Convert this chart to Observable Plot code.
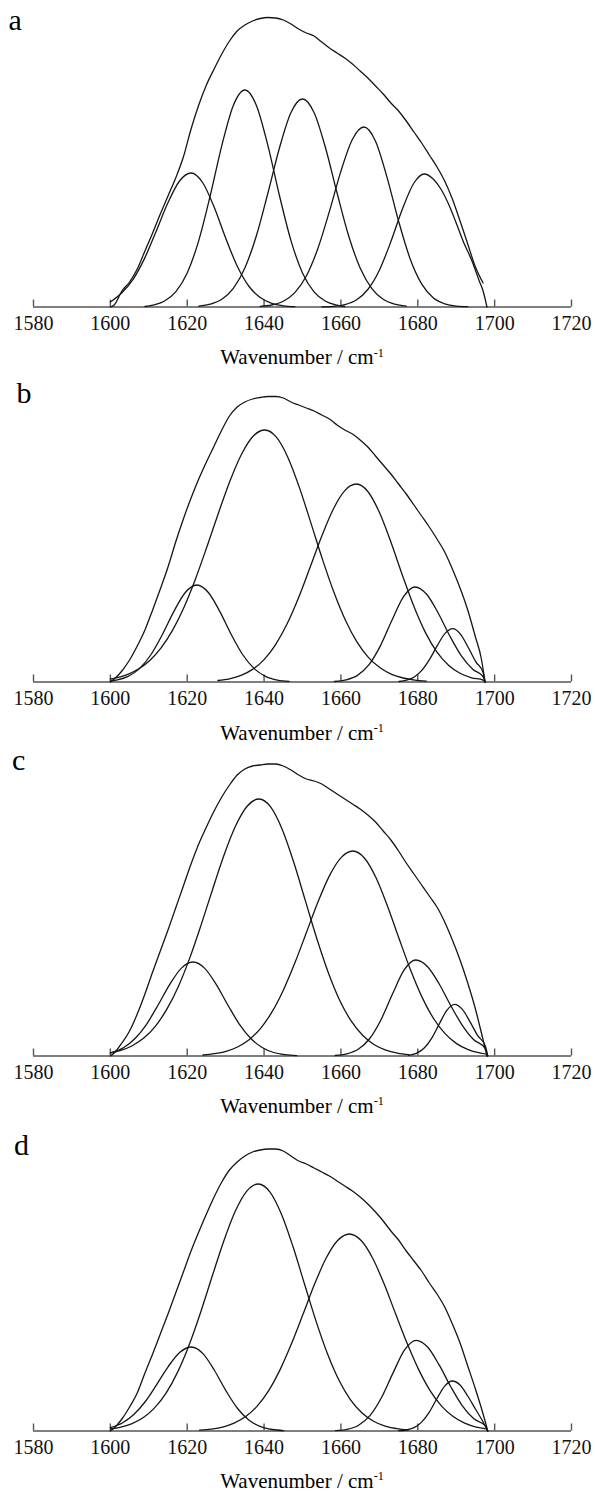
<!DOCTYPE html>
<html>
<head>
<meta charset="utf-8">
<script src="https://cdn.jsdelivr.net/npm/d3@7"></script>
<script src="https://cdn.jsdelivr.net/npm/@observablehq/plot@0.6"></script>
<style>
  html, body { margin: 0; padding: 0; background: #fff; }
  #root { position: relative; width: 595px; height: 1492px; overflow: hidden;
          font-family: "Liberation Serif", "Times New Roman", serif; color: #000; }
  .panel { position: absolute; left: 0; width: 595px; }
  .letter { position: absolute; font-size: 30px; line-height: 1; }
  .xlabel { position: absolute; font-size: 21px; line-height: 1; white-space: nowrap;
            transform: translateX(-50%); }
  .xlabel sup { font-size: 0.58em; vertical-align: baseline; position: relative; top: -0.62em; }
</style>
</head>
<body>
<div id="root"></div>
<script>
// ---------- data (wavenumber cm-1, absorbance in arbitrary units) ----------
const xTicks = [1580, 1600, 1620, 1640, 1660, 1680, 1700, 1720];
const panelLetters = ["a", "b", "c", "d"];
const xLabelText = "Wavenumber / cm";
const xLabelSup = "-1";

// panel a
const aEnvelope = [[1600,0],[1601,2],[1603,16],[1605,25],[1607,38],[1609,56],[1611,74],[1613,93],[1615,111],[1617,129],[1619,150],[1621,178],[1623,202],[1625,222],[1627,238],[1629,253],[1631,266],[1633,276],[1635,282],[1637,286],[1639,288.5],[1641,289.5],[1643,289],[1645,287],[1647,283],[1649,278],[1651,274],[1653,271],[1655,265],[1657,259],[1659,254],[1661,249],[1663,243],[1665,236],[1667,229],[1669,221],[1671,213],[1673,204],[1675,196],[1677,186],[1679,175],[1681,164],[1683,152],[1685,140],[1687,126],[1689,108],[1691,86],[1693,63],[1695,40],[1697,24]];
const aBand1 = [[1600,5],[1603,14.2],[1606,28.2],[1609,49.4],[1612,76.5],[1615,104.4],[1618,126],[1621,134],[1624,124.5],[1627,100],[1630,69],[1633,41],[1636,21],[1639,9.4],[1642,3.6],[1645,1.2],[1648,0.3]];
const aBand2 = [[1609,0.5],[1611,1.9],[1614,5.8],[1617,15.2],[1620,34],[1623,66.4],[1626,111.5],[1629,161.4],[1632,201.6],[1635,217],[1638,201.6],[1641,161.4],[1644,111.5],[1647,66.4],[1650,34],[1653,15.2],[1656,5.8],[1659,1.9],[1661,0.5]];
const aBand3 = [[1623,0.9],[1626,2.9],[1629,7.8],[1632,18.7],[1635,39],[1638,71.3],[1641,114],[1644,159],[1647,194.5],[1650,208],[1653,194.5],[1656,159],[1659,114],[1662,71.3],[1665,39],[1668,18.7],[1671,7.8],[1674,2.9],[1677,0.9]];
const aBand4 = [[1639,0.6],[1642,2],[1645,5.8],[1648,14.4],[1651,31],[1654,58.5],[1657,95.6],[1660,135.9],[1663,167.8],[1666,180],[1669,165.8],[1672,129.6],[1675,85.9],[1678,48.3],[1681,23.1],[1684,9.3],[1687,3.2],[1690,0.9],[1693,0.3]];
const aBand5 = [[1655,0.2],[1658,0.7],[1661,2.4],[1664,7],[1667,17.5],[1670,36.8],[1673,65.4],[1676,98],[1679,124],[1681.7,133],[1684,128],[1686,118],[1688,103],[1690,84],[1692,64],[1694,47],[1696,26],[1697,16],[1698,0]];

// panel b
const bEnvelope = [[1600,0],[1601,3],[1603,11],[1605,22],[1607,36],[1609,52],[1611,72],[1613,93],[1615,115],[1617,140],[1619,163],[1621,184],[1623,203],[1625,220],[1627,236],[1629,252],[1631,266],[1633,275],[1635,280],[1637,283],[1639,284.5],[1641,285.5],[1643,285.5],[1645,284],[1647,280],[1649,277],[1651,274],[1653,271],[1655,267],[1657,263],[1659,257],[1661,252],[1663,248],[1665,242],[1667,235],[1669,226],[1671,217],[1673,208],[1675,198],[1677,188],[1679,177],[1681,166],[1683,155],[1685,143],[1687,130],[1689,113],[1691,94],[1693,72],[1695,45],[1696.5,24],[1697.5,0]];
const bBand1 = [[1600,1],[1601.5,1.9],[1604.5,5.4],[1607.5,13.1],[1610.5,27],[1613.5,47.2],[1616.5,70.4],[1619.5,89.5],[1622.5,97],[1625.5,89.5],[1628.5,70.4],[1631.5,47.2],[1634.5,27],[1637.5,13.1],[1640.5,5.4],[1643.5,1.9],[1646.5,0.6]];
const bBand2 = [[1600,3],[1601.2,3.9],[1604.2,7.2],[1607.2,12.7],[1610.2,21.3],[1613.2,34.1],[1616.2,51.9],[1619.2,75.1],[1622.2,103.6],[1625.2,136],[1628.2,169.8],[1631.2,201.8],[1634.2,228.3],[1637.2,246],[1640.2,252],[1643.2,244.8],[1646.2,224.6],[1649.2,194.4],[1652.2,158.9],[1655.2,122.6],[1658.2,89.4],[1661.2,61.5],[1664.2,39.9],[1667.2,24.4],[1670.2,14.2],[1673.2,7.7],[1676.2,4],[1679.2,1.9],[1682.2,0.9]];
const bBand3 = [[1628,1.5],[1631,3.2],[1634,6.6],[1637,12.6],[1640,22.4],[1643,37.4],[1646,58.2],[1649,84.5],[1652,114.9],[1655,145.8],[1658,172.8],[1661,191.4],[1664,198],[1667,190.5],[1670,169.7],[1673,140],[1676,106.8],[1679,75.5],[1682,49.4],[1685,29.9],[1688,16.8],[1691,8.7],[1694,4.2],[1697,1.9],[1697.5,0]];
const bBand4 = [[1658.3,0.5],[1661.3,2.1],[1664.3,6.6],[1667.3,17.3],[1670.3,36.4],[1673.3,62],[1676.3,85.4],[1679.3,95],[1682.3,87.7],[1685.3,69],[1688.3,46.3],[1691.3,26.4],[1694.3,12.8],[1697,5.5],[1697.5,0]];
const bBand5 = [[1675.1,0.5],[1677.1,1.8],[1679.1,5],[1681.1,11.8],[1683.1,22.8],[1685.1,36.6],[1687.1,48.6],[1689.1,53.4],[1691.1,47.9],[1693.1,34.7],[1695.1,20.2],[1697,9.5],[1697.5,0]];

// panel c
const cEnvelope = [[1600,0],[1601,3],[1603,13],[1605,25],[1607,42],[1609,62],[1611,84],[1613,105],[1615,126],[1617,148],[1619,170],[1621,192],[1623,212],[1625,229],[1627,245],[1629,259],[1631,271],[1633,281],[1635,287],[1637,290],[1639,291],[1641,292],[1643,292],[1645,290],[1647,286],[1649,281],[1651,277],[1653,275],[1655,272],[1657,267],[1659,262],[1661,257],[1663,252],[1665,247],[1667,241],[1669,234],[1671,225],[1673,216],[1675,205],[1677,193],[1679,182],[1681,171],[1683,160],[1685,149],[1687,134],[1689,116],[1691,96],[1693,73],[1695,47],[1696.5,24],[1698,0]];
const cBand1 = [[1600,3],[1603.5,8.5],[1606.5,17.7],[1609.5,32.2],[1612.5,51.5],[1615.5,71.9],[1618.5,87.9],[1621.5,94],[1624.5,87.9],[1627.5,71.9],[1630.5,51.5],[1633.5,32.2],[1636.5,17.7],[1639.5,8.5],[1642.5,3.5],[1645.5,1.3],[1648.5,0.4]];
const cBand2 = [[1600,3.1],[1602.7,5.6],[1605.7,10.3],[1608.7,17.9],[1611.7,29.7],[1614.7,46.8],[1617.7,69.6],[1620.7,98.4],[1623.7,132.1],[1626.7,167.8],[1629.7,202.3],[1632.7,231],[1635.7,250.3],[1638.7,257],[1641.7,249.1],[1644.7,226.8],[1647.7,194],[1650.7,155.9],[1653.7,117.7],[1656.7,83.5],[1659.7,55.5],[1662.7,34.8],[1665.7,20.5],[1668.7,11.3],[1671.7,5.9],[1674.7,2.9],[1677.7,1.3]];
const cBand3 = [[1624.1,1],[1627.1,2.3],[1630.1,4.7],[1633.1,9],[1636.1,16.3],[1639.1,27.7],[1642.1,44.3],[1645.1,66.6],[1648.1,93.9],[1651.1,124.3],[1654.1,154.8],[1657.1,180.9],[1660.1,198.6],[1663.1,205],[1666.1,198],[1669.1,178.5],[1672.1,150.1],[1675.1,117.8],[1678.1,86.2],[1681.1,58.9],[1684.1,37.5],[1687.1,22.4],[1690.1,12.4],[1693.1,6.4],[1696.1,3.1],[1697.8,1.9],[1698.2,0]];
const cBand4 = [[1658.5,0.5],[1661.5,2.1],[1664.5,6.7],[1667.5,17.5],[1670.5,36.8],[1673.5,62.7],[1676.5,86.3],[1679.5,96],[1682.5,89.5],[1685.5,72.5],[1688.5,51],[1691.5,31.2],[1694.5,16.5],[1697.5,7.7],[1698.2,0]];
const cBand5 = [[1677.6,0.7],[1679.6,2.6],[1681.6,7.7],[1683.6,17.7],[1685.6,32.1],[1687.6,45.9],[1689.6,51.7],[1691.6,46.6],[1693.6,34.2],[1695.6,20.4],[1697.6,9.9],[1698.2,0]];

// panel d
const dEnvelope = [[1600,0],[1601,3],[1603,12],[1605,24],[1607,38],[1609,58],[1611,77],[1613,97],[1615,117],[1617,138],[1619,159],[1621,180],[1623,199],[1625,217],[1627,234],[1629,249],[1631,261],[1633,269],[1635,275],[1637,279],[1639,281],[1641,282],[1643,282],[1645,280],[1647,275],[1649,270],[1651,267],[1653,263],[1655,259],[1657,255],[1659,250],[1661,245],[1663,240],[1665,234],[1667,227],[1669,219],[1671,210],[1673,200],[1675,191],[1677,180],[1679,170],[1681,160],[1683,148],[1685,137],[1687,124],[1689,107],[1691,88],[1693,65],[1695,42],[1697,17],[1698.2,0]];
const dBand1 = [[1600,3.3],[1603.1,8],[1606.1,16.4],[1609.1,29.5],[1612.1,46.7],[1615.1,64.7],[1618.1,78.7],[1621.1,84],[1624.1,77.4],[1627.1,60.5],[1630.1,40.1],[1633.1,22.5],[1636.1,10.8],[1639.1,4.4],[1642.1,1.5],[1645.1,0.4]];
const dBand2 = [[1600,2],[1602.5,3.7],[1605.5,7.2],[1608.5,13.2],[1611.5,23.1],[1614.5,37.9],[1617.5,58.9],[1620.5,86.1],[1623.5,118.8],[1626.5,154.7],[1629.5,189.8],[1632.5,219.7],[1635.5,239.9],[1638.5,247],[1641.5,239.2],[1644.5,217.1],[1647.5,184.7],[1650.5,147.3],[1653.5,110.1],[1656.5,77.2],[1659.5,50.7],[1662.5,31.2],[1665.5,18],[1668.5,9.8],[1671.5,4.9],[1674.5,2.4],[1677.5,1]];
const dBand3 = [[1623.2,0.8],[1626.2,1.9],[1629.2,3.9],[1632.2,7.8],[1635.2,14.4],[1638.2,24.9],[1641.2,40.4],[1644.2,61.6],[1647.2,87.9],[1650.2,117.4],[1653.2,147.4],[1656.2,173.2],[1659.2,190.7],[1662.2,197],[1665.2,190.7],[1668.2,173.2],[1671.2,147.4],[1674.2,117.4],[1677.2,87.9],[1680.2,61.6],[1683.2,40.4],[1686.2,24.9],[1689.2,14.4],[1692.2,7.8],[1695.2,3.9],[1697.8,2],[1698.2,0]];
const dBand4 = [[1658.6,0.4],[1661.6,1.7],[1664.6,5.8],[1667.6,15.6],[1670.6,33.7],[1673.6,58.4],[1676.6,81.3],[1679.6,90.7],[1682.6,83.7],[1685.6,65.8],[1688.6,44.2],[1691.6,25.2],[1694.6,12.2],[1697.6,5.1],[1698.2,0]];
const dBand5 = [[1675,0.3],[1677,1],[1679,3.3],[1681,8.9],[1683,18.9],[1685,32.5],[1687,44.9],[1689,50],[1691,46],[1693,35],[1695,22],[1697,9],[1698.2,0]];

const panelCurves = [
  [aEnvelope, aBand1, aBand2, aBand3, aBand4, aBand5],
  [bEnvelope, bBand1, bBand2, bBand3, bBand4, bBand5],
  [cEnvelope, cBand1, cBand2, cBand3, cBand4, cBand5],
  [dEnvelope, dBand1, dBand2, dBand3, dBand4, dBand5]
];

// ---------- layout (styles / positions, not data) ----------
const axisY = [306.5, 681.7, 1055, 1430];      // page y of each baseline
const plotH = 340, marginTop = 6.5, marginBottom = plotH - 306.5;
const letterPos = [[8.5, 4.9], [16.5, 377.9], [12, 744.9], [14, 1129.9]];
const serif = '"Liberation Serif", "Times New Roman", serif';

const root = document.getElementById("root");

panelCurves.forEach((curves, i) => {
  const chart = Plot.plot({
    width: 595,
    height: plotH,
    marginLeft: 33,
    marginRight: 24,
    marginTop,
    marginBottom,
    x: {domain: [1580, 1720]},
    y: {domain: [0, 300], axis: null},
    style: {fontFamily: serif, fontSize: "20px", color: "#000", background: "transparent", overflow: "visible"},
    marks: [
      Plot.ruleY([0], {stroke: "#555", strokeWidth: 1.6}),
      Plot.axisX({ticks: xTicks, tickSize: -7, tickPadding: 15.3, tickFormat: "d", label: null,
                  stroke: "#555", strokeWidth: 1.4, fill: "#111", fontSize: 20, fontFamily: serif}),
      ...curves.map(c => Plot.line(c, {x: d => d[0], y: d => d[1], stroke: "#151515", strokeWidth: 1.3, curve: "monotone-x"}))
    ]
  });
  const wrap = document.createElement("div");
  wrap.className = "panel";
  wrap.style.top = (axisY[i] - 306.5) + "px";
  wrap.appendChild(chart);
  root.appendChild(wrap);

  const letter = document.createElement("div");
  letter.className = "letter";
  letter.textContent = panelLetters[i];
  letter.style.left = letterPos[i][0] + "px";
  letter.style.top = letterPos[i][1] + "px";
  root.appendChild(letter);

  const xl = document.createElement("div");
  xl.className = "xlabel";
  xl.style.left = "302px";
  xl.style.top = (axisY[i] + 40.9) + "px";
  xl.textContent = xLabelText;
  const sup = document.createElement("sup");
  sup.textContent = xLabelSup;
  xl.appendChild(sup);
  root.appendChild(xl);
});
</script>
</body>
</html>
